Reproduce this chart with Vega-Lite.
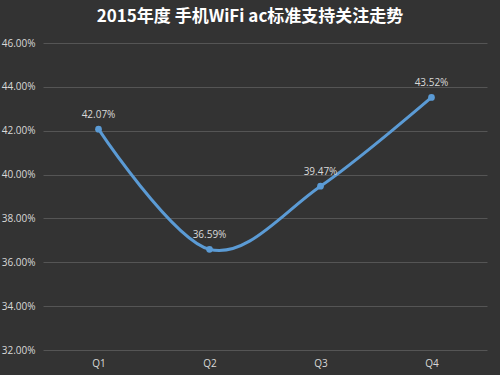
{
  "$schema": "https://vega.github.io/schema/vega-lite/v6.json",
  "width": 444,
  "height": 307,
  "autosize": {"type": "none"},
  "padding": {"left": 43, "top": 43, "right": 13, "bottom": 25},
  "background": "#333333",
  "title": {
    "text": "2015年度 手机WiFi ac标准支持关注走势",
    "font": "Noto Sans CJK SC",
    "fontSize": 17,
    "fontWeight": "bold",
    "color": "#ffffff",
    "anchor": "middle",
    "dx": -15,
    "offset": 12
  },
  "data": {
    "values": [
      {"q": "Q1", "v": 0.4207},
      {"q": "Q2", "v": 0.3659},
      {"q": "Q3", "v": 0.3947},
      {"q": "Q4", "v": 0.4352}
    ]
  },
  "encoding": {
    "x": {
      "field": "q",
      "type": "ordinal",
      "title": null,
      "scale": {"paddingInner": 0, "paddingOuter": 0.5},
      "axis": {
        "labelAngle": 0,
        "domain": false,
        "ticks": false,
        "grid": false,
        "labelPadding": 8,
        "labelColor": "#d9d9d9",
        "labelFont": "Open Sans",
        "labelFontSize": 10
      }
    },
    "y": {
      "field": "v",
      "type": "quantitative",
      "title": null,
      "scale": {"domain": [0.32, 0.46], "nice": false, "zero": false},
      "axis": {
        "values": [0.32, 0.34, 0.36, 0.38, 0.40, 0.42, 0.44, 0.46],
        "format": ".2%",
        "domain": false,
        "ticks": false,
        "grid": true,
        "gridColor": "#555555",
        "gridWidth": 1,
        "labelPadding": 8,
        "labelColor": "#d9d9d9",
        "labelFont": "Open Sans",
        "labelFontSize": 10
      }
    }
  },
  "layer": [
    {
      "mark": {"type": "line", "interpolate": "cardinal", "color": "#5b9bd5", "strokeWidth": 3}
    },
    {
      "mark": {"type": "point", "filled": true, "color": "#5b9bd5", "size": 45, "opacity": 1}
    },
    {
      "mark": {"type": "text", "dy": -14, "color": "#d9d9d9", "font": "Open Sans", "fontSize": 10},
      "encoding": {"text": {"field": "v", "type": "quantitative", "format": ".2%"}}
    }
  ],
  "config": {"view": {"stroke": null}}
}
